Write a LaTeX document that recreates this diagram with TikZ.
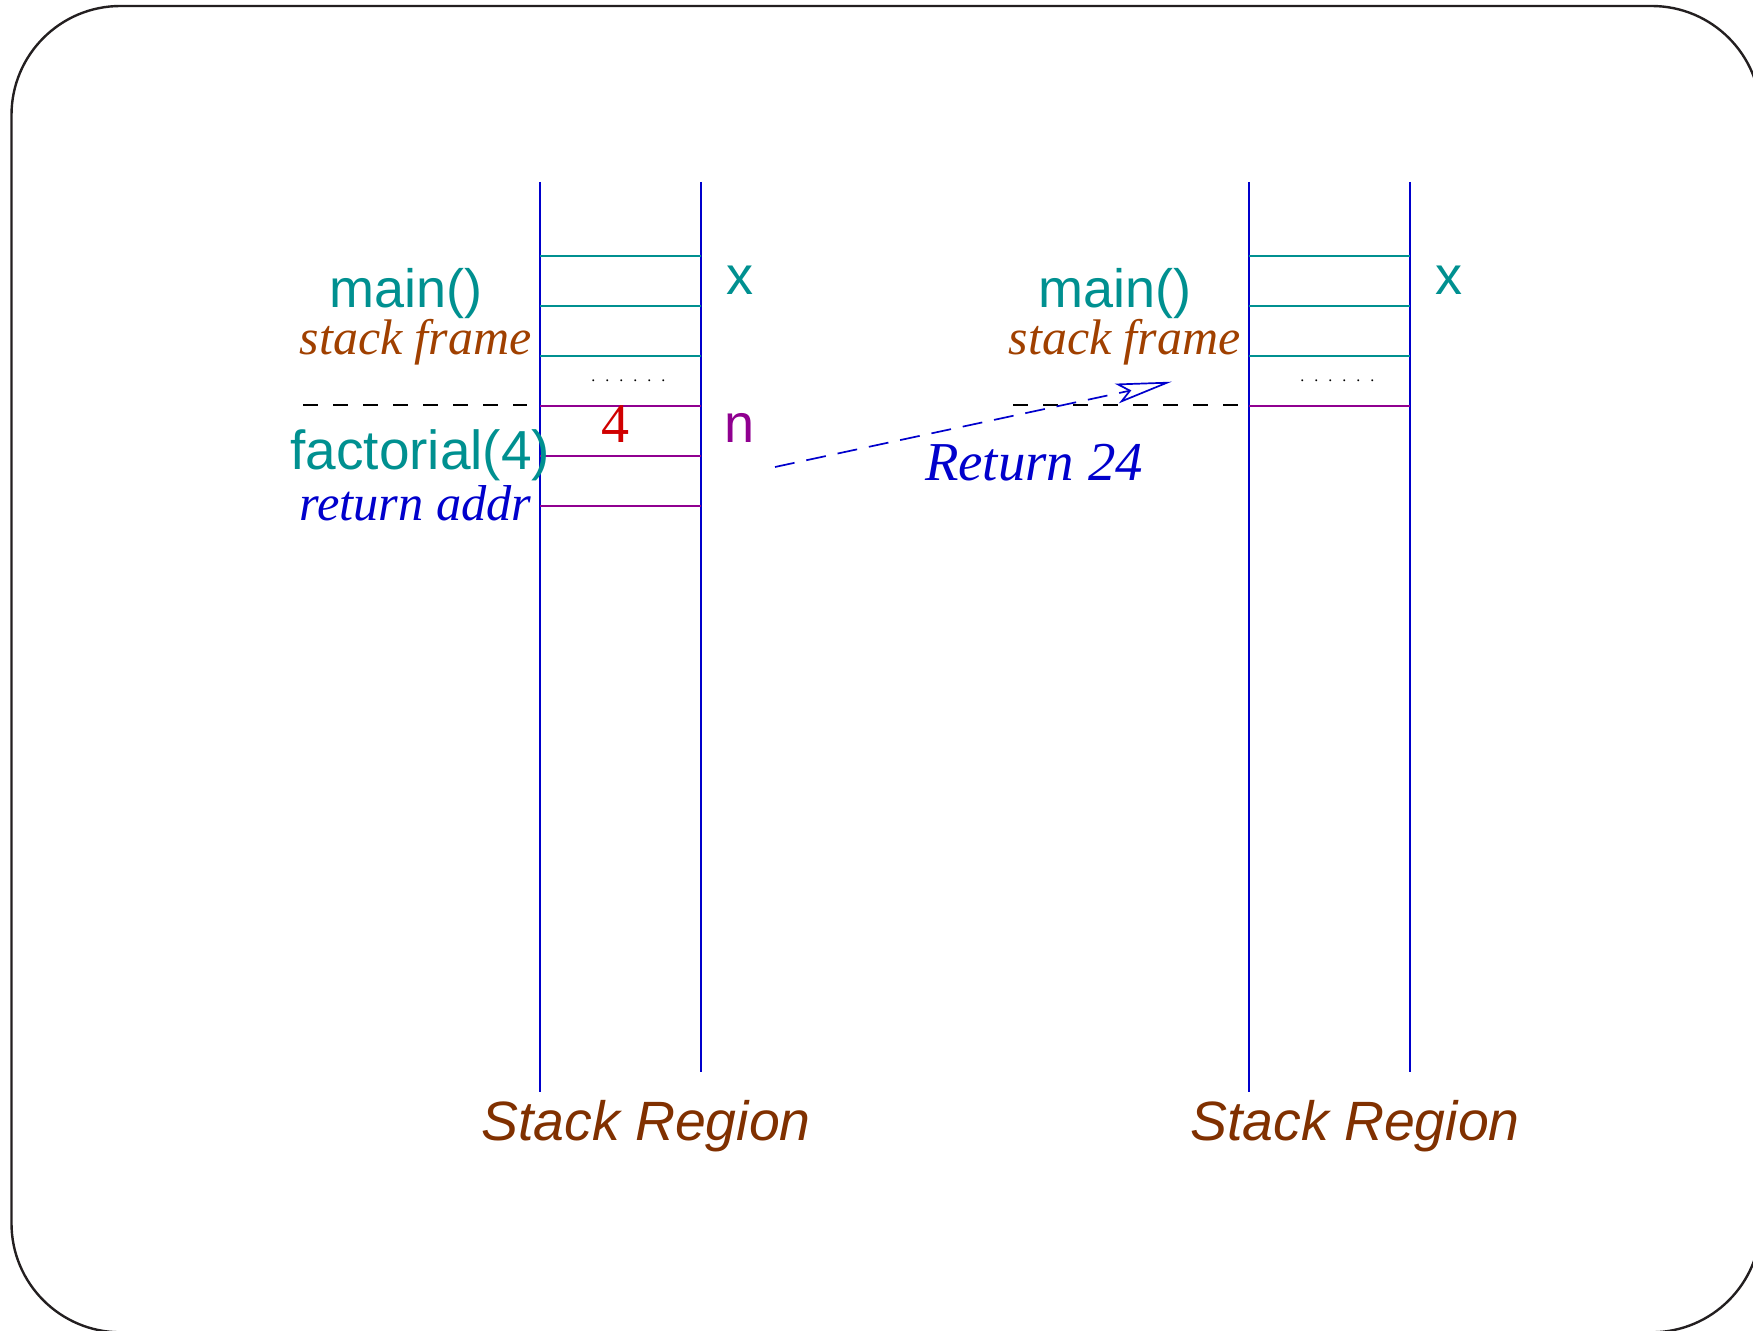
\documentclass[tikz,border=0pt]{standalone}
\usepackage{fontspec}
\setmainfont{Liberation Serif}
\setsansfont{Liberation Sans}
\usetikzlibrary{arrows.meta}
\definecolor{vblue}{RGB}{0,0,204}
\definecolor{cteal}{RGB}{0,144,144}
\definecolor{cpurple}{RGB}{144,0,144}
\definecolor{cbrown}{RGB}{160,64,0}
\definecolor{dbrown}{RGB}{128,48,0}
\definecolor{cred}{RGB}{208,0,0}
\definecolor{framec}{RGB}{35,31,32}
\newcommand\dotrowtext{.\kern5pt.\kern5pt.\kern5pt.\kern5pt.\kern5pt.}
\begin{document}
\begin{tikzpicture}[x=0.5pt,y=-0.5pt,
  wall/.style={draw=vblue,line width=1pt},
  slotT/.style={draw=cteal,line width=0.7pt},
  slotP/.style={draw=cpurple,line width=0.7pt},
  sepline/.style={draw=black,line width=0.85pt,dash pattern=on 7.5pt off 7.5pt},
  sanslbl/.style={font=\sffamily\fontsize{27pt}{30pt}\selectfont, inner sep=0pt, anchor=base},
  seriflbl/.style={font=\rmfamily\itshape\fontsize{25pt}{28pt}\selectfont, inner sep=0pt, anchor=base east},
  regionlbl/.style={font=\sffamily\itshape\fontsize{27.7pt}{32pt}\selectfont, inner sep=0pt, anchor=base, text=dbrown},
  dotslbl/.style={font=\rmfamily\fontsize{8pt}{8pt}\selectfont, inner sep=0pt, anchor=base west}
]
\path[use as bounding box] (0,0) rectangle (1753,1331);
\clip (0,0) rectangle (1753,1331);
\draw[framec, line width=1.2pt, rounded corners=54.5pt] (11.5,6) rectangle (1760.7,1332.3);

% left stack
\draw[wall] (540,182) -- (540,1092);
\draw[wall] (701,182) -- (701,1072);
\draw[slotT] (540,256) -- (701,256);
\draw[slotT] (540,306) -- (701,306);
\draw[slotT] (540,356) -- (701,356);
\draw[slotP] (540,406) -- (701,406);
\draw[slotP] (540,456) -- (701,456);
\draw[slotP] (540,506) -- (701,506);
\draw[sepline] (303,405) -- (527,405);

% right stack
\draw[wall] (1249,182) -- (1249,1092);
\draw[wall] (1410,182) -- (1410,1072);
\draw[slotT] (1249,256) -- (1410,256);
\draw[slotT] (1249,306) -- (1410,306);
\draw[slotT] (1249,356) -- (1410,356);
\draw[slotP] (1249,406) -- (1410,406);
\draw[sepline] (1013,405) -- (1238,405);

% labels left
\node[sanslbl, text=cteal] (mainL) at (406,308) {main()};
\node[seriflbl, text=cbrown] (sfL) at (532,355) {stack frame};
\node[sanslbl, text=cteal, anchor=base west, font=\sffamily\fontsize{27.5pt}{30pt}\selectfont] (factL) at (290,470) {factorial(4)};
\node[seriflbl, text=vblue, font=\rmfamily\itshape\fontsize{25.2pt}{28pt}\selectfont] (raL) at (532,521) {return addr};
\node[sanslbl, text=cteal] (xL) at (740,295) {x};
\node[sanslbl, text=cpurple] (nL) at (740,443) {n};
\node[font=\rmfamily\fontsize{28pt}{30pt}\selectfont, inner sep=0pt, anchor=base, text=cred] (fourL) at (615,443) {4};
\node[dotslbl] (dotsL) at (591,382) {\dotrowtext};
\node[regionlbl] (srL) at (646,1140) {Stack Region};

% labels right
\node[sanslbl, text=cteal] (mainR) at (1115,308) {main()};
\node[seriflbl, text=cbrown] (sfR) at (1241,355) {stack frame};
\node[sanslbl, text=cteal] (xR) at (1449,295) {x};
\node[dotslbl] (dotsR) at (1300,382) {\dotrowtext};
\node[regionlbl] (srR) at (1355,1140) {Stack Region};

% return arrow
\coordinate (retS) at (775,467);
\coordinate (retE) at (1171.7,381.7);
\draw[vblue, line width=0.85pt, dash pattern=on 10pt off 6pt,
  -{Stealth[open, length=28pt, width=10pt, inset=6pt]}] (retS) -- (retE);
\node[font=\rmfamily\itshape\fontsize{27.4pt}{30pt}\selectfont, inner sep=0pt, anchor=base, text=vblue] (retL) at (1034,481) {Return 24};
\end{tikzpicture}
\end{document}
